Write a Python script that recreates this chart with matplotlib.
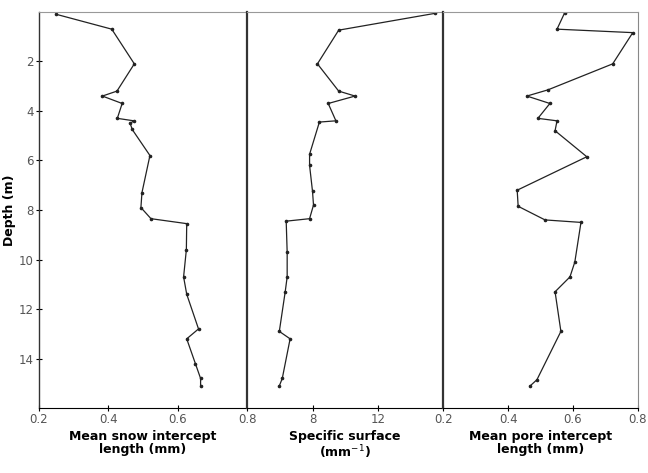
import matplotlib.pyplot as plt

# depth profiles (depth in m)
snow_depth = [0.1, 0.7, 2.1, 3.2, 3.4, 3.7, 4.3, 4.4, 4.5, 4.75, 5.8, 7.3, 7.9, 8.35, 8.55, 9.6, 10.7, 11.4, 12.8, 13.2, 14.2, 14.8, 15.1]
snow_len = [0.25, 0.41, 0.475, 0.425, 0.383, 0.44, 0.426, 0.474, 0.463, 0.469, 0.52, 0.497, 0.494, 0.523, 0.626, 0.625, 0.617, 0.626, 0.66, 0.626, 0.651, 0.666, 0.666]

surf_depth = [0.06, 0.74, 2.1, 3.2, 3.4, 3.7, 4.4, 4.45, 5.75, 6.2, 7.25, 7.8, 8.35, 8.45, 9.7, 10.7, 11.3, 12.9, 13.2, 14.8, 15.1]
surf_val = [15.5, 9.6, 8.3, 9.6, 10.6, 8.96, 9.43, 8.42, 7.82, 7.82, 8.0, 8.06, 7.82, 6.39, 6.45, 6.45, 6.33, 5.97, 6.63, 6.15, 5.97]

pore_depth = [0.03, 0.7, 0.84, 2.1, 3.15, 3.4, 3.7, 4.3, 4.4, 4.8, 5.85, 7.2, 7.85, 8.4, 8.5, 10.1, 10.7, 11.3, 12.9, 14.85, 15.1]
pore_len = [0.575, 0.551, 0.785, 0.723, 0.523, 0.458, 0.529, 0.492, 0.551, 0.545, 0.643, 0.428, 0.431, 0.514, 0.625, 0.606, 0.591, 0.545, 0.563, 0.489, 0.468]

fig = plt.figure(figsize=(6.48, 4.73), dpi=100)
gs = fig.add_gridspec(1, 3, left=0.060, right=0.984, top=0.975, bottom=0.137,
                      wspace=0, width_ratios=[209, 197, 195])
axes = [fig.add_subplot(gs[0, i]) for i in range(3)]

panels = [
    (snow_len, snow_depth, (0.2, 0.8), [0.2, 0.4, 0.6, 0.8], 'Mean snow intercept\nlength (mm)'),
    (surf_val, surf_depth, (4, 16), [8, 12], 'Specific surface\n(mm$^{-1}$)'),
    (pore_len, pore_depth, (0.2, 0.8), [0.2, 0.4, 0.6, 0.8], 'Mean pore intercept\nlength (mm)'),
]

for i, (ax, (x, d, xl, xt, lab)) in enumerate(zip(axes, panels)):
    ax.plot(x, d, color='#222222', lw=0.9, marker='o', ms=1.6)
    ax.set_xlim(*xl)
    ax.set_ylim(16, 0)
    ax.set_xticks(xt)
    ax.set_xticklabels([('%g' % t) for t in xt])
    ax.set_xlabel(lab, fontsize=9, fontweight='bold', linespacing=1.0, labelpad=3)
    ax.tick_params(axis='x', direction='inout', length=5, labelsize=8.5, labelcolor='#555555', pad=1)
    ax.spines['top'].set_color('#999999')
    ax.spines['right'].set_visible(i == 2)
    ax.spines['right'].set_color('#888888')
    ax.spines['left'].set_linewidth(1.6 if i > 0 else 1.0)
    ax.spines['left'].set_color('#333333')
    if i == 0:
        ax.set_yticks([2, 4, 6, 8, 10, 12, 14])
        ax.tick_params(axis='y', direction='inout', length=5, labelsize=8.5, labelcolor='#555555', pad=1)
        ax.set_ylabel('Depth (m)', fontsize=9, fontweight='bold', labelpad=2)
    else:
        ax.set_yticks([])

fig.savefig('out.png', dpi=100)
